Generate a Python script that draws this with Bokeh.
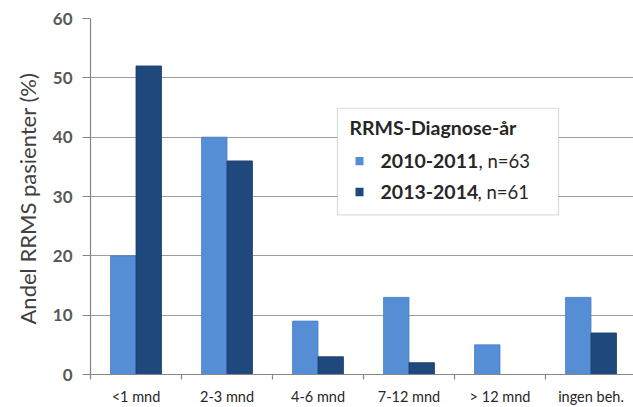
from bokeh.plotting import figure
from bokeh.models import Range1d, FixedTicker, ColumnDataSource, BoxAnnotation, Label, Title
from bokeh.transform import dodge
from bokeh.embed import file_html
from bokeh.resources import INLINE

categories = ["<1 mnd", "2-3 mnd", "4-6 mnd", "7-12 mnd", "> 12 mnd", "ingen beh."]
series_2010 = [20, 40, 9, 13, 5, 13]
series_2013 = [52, 36, 3, 2, 0, 7]
y_ticks = [0, 10, 20, 30, 40, 50, 60]
y_label = "Andel RRMS pasienter (%)"
legend_title = "RRMS-Diagnose-år"
legend_names = ["2010-2011", "2013-2014"]
legend_suffix = [", n=63", " , n=61"]

LIGHT = "#558ed5"
DARK = "#1f497d"
FONT = "Lato"

xpos = [i + 0.5 for i in range(len(categories))]
src = ColumnDataSource(dict(x=xpos, a=series_2010, b=series_2013))

p = figure(width=633, height=407, output_backend="svg", toolbar_location=None,
           x_range=Range1d(0, 5.967), y_range=Range1d(0, 60),
           min_border_left=90, min_border_right=0, min_border_top=18, min_border_bottom=32)
p.outline_line_color = None
p.xgrid.grid_line_color = None
p.ygrid.grid_line_color = "#9d9d9d"
p.ygrid.grid_line_width = 1.2
p.ygrid.ticker = FixedTicker(ticks=y_ticks)

p.vbar(x=dodge("x", -0.14, range=p.x_range), top="a", width=0.28, source=src,
       fill_color=LIGHT, line_color="#4a80c4", line_width=0.8)
p.vbar(x=dodge("x", 0.14, range=p.x_range), top="b", width=0.28, source=src,
       fill_color=DARK, line_color="#193d6a", line_width=0.8)

# y axis
ya = p.yaxis[0]
ya.ticker = FixedTicker(ticks=y_ticks)
ya.axis_line_color = "#868686"
ya.axis_line_width = 1.2
ya.major_tick_line_color = "#868686"
ya.major_tick_line_width = 1.2
ya.major_tick_out = 8
ya.major_tick_in = 0
ya.minor_tick_line_color = None
ya.major_label_text_font = FONT
ya.major_label_text_font_style = "bold"
ya.major_label_text_font_size = "17px"
ya.major_label_text_color = "#595959"
ya.major_label_standoff = 10

p.add_layout(Title(text=y_label, align="left", offset=50, standoff=18,
                   text_font=FONT, text_font_size="22px", text_font_style="normal",
                   text_color="#404040"), "left")

# x axis
xa = p.xaxis[0]
xa.ticker = FixedTicker(ticks=xpos, minor_ticks=list(range(len(categories) + 1)))
xa.major_label_overrides = {x: c for x, c in zip(xpos, categories)}
xa.axis_line_color = "#868686"
xa.axis_line_width = 1.2
xa.major_tick_line_color = None
xa.major_tick_out = 0
xa.major_tick_in = 0
xa.minor_tick_line_color = "#868686"
xa.minor_tick_line_width = 1.2
xa.minor_tick_out = 5
xa.minor_tick_in = 0
xa.major_label_text_font = FONT
xa.major_label_text_font_size = "14.5px"
xa.major_label_text_color = "#262626"
xa.major_label_standoff = 8

# legend (drawn manually for mixed bold/normal text)
p.add_layout(BoxAnnotation(left=2.714, right=5.143, bottom=26.89, top=44.87,
                           fill_color="white", fill_alpha=1.0,
                           line_color="#868686", line_width=1.2, level="annotation"))
p.add_layout(Label(x=2.846, y=41.68, text=legend_title, text_font=FONT,
                   text_font_style="bold", text_font_size="19.5px", text_color="#262626",
                   text_baseline="middle", text_align="left"))
ys = [35.97, 30.76]
sxs = [4.264, 4.253]
for name, suf, col, yy, sx in zip(legend_names, legend_suffix, [LIGHT, DARK], ys, sxs):
    p.add_layout(BoxAnnotation(left=2.912, right=3.0, bottom=yy - 0.7, top=yy + 0.7,
                               fill_color=col, fill_alpha=1.0, line_color=None))
    p.add_layout(Label(x=3.187, y=yy, text=name, text_font=FONT, text_font_style="bold",
                       text_font_size="19.5px", text_color="#262626",
                       text_baseline="middle", text_align="left"))
    p.add_layout(Label(x=sx, y=yy, text=suf.strip(), text_font=FONT, text_font_style="normal",
                       text_font_size="18.5px", text_color="#262626",
                       text_baseline="middle", text_align="left"))

open("out.html", "w").write(file_html(p, INLINE))
